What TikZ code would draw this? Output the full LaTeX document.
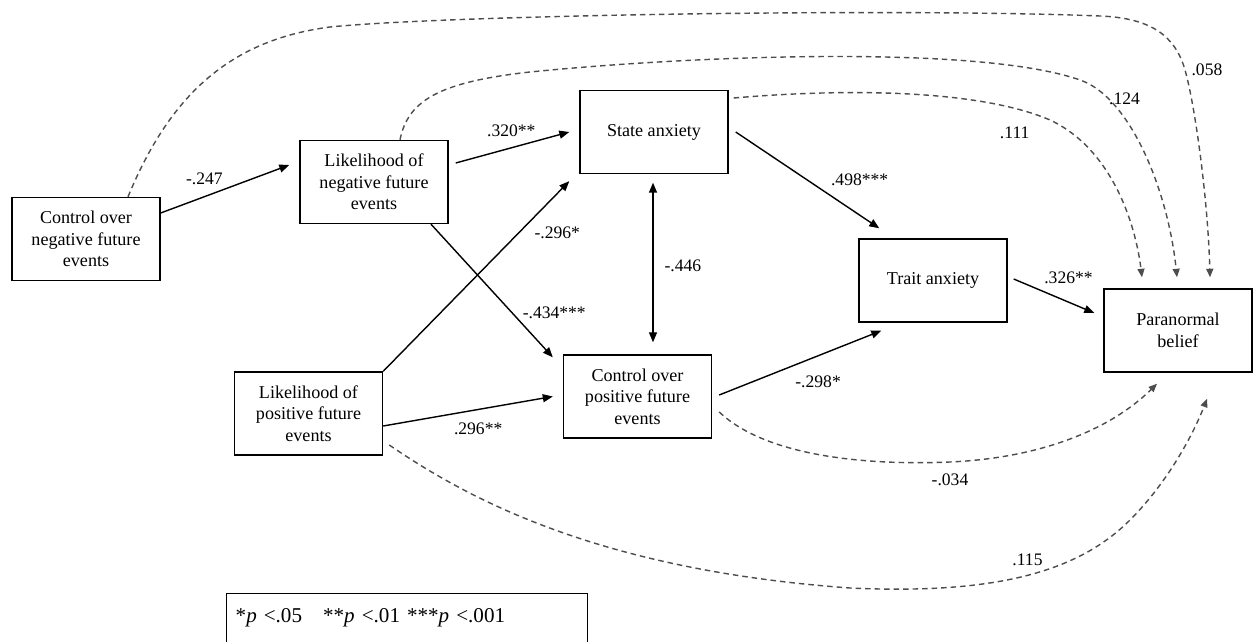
\documentclass[tikz,border=0pt]{standalone}
\usepackage{fontspec}
\setmainfont{Liberation Serif}
\usetikzlibrary{arrows.meta,positioning,calc}
\definecolor{dashgray}{HTML}{4D4D4D}
\tikzset{
  varbox/.style={draw,line width=0.8pt,align=center,minimum width=29.6mm,
    minimum height=16.6mm,inner sep=2pt,font=\fontsize{10.3}{12.3}\selectfont},
  effect/.style={-{Triangle[length=2mm,width=1.6mm]},line width=0.8pt},
  direct/.style={-{Triangle[length=1.7mm,width=1.4mm]},line width=0.8pt,
    dashgray,dash pattern=on 1.1mm off 0.8mm},
  coef/.style={text=black,font=\fontsize{10}{12}\selectfont},
  sigbox/.style={draw,line width=0.8pt,anchor=north west,align=left,
    text width=68.6mm,inner xsep=1.8mm,inner ysep=3mm,text depth=12mm,
    font=\fontsize{12}{14}\selectfont}
}

\begin{document}
\begin{tikzpicture}[x=0.2mm,y=-0.2mm]
  \useasboundingbox (0,0) rectangle (1253,642);
  % Variables
  \node[varbox] (cneg) at (86,239) {Control over\\negative future\\events};
  \node[varbox] (lneg) at (374,182) {Likelihood of\\negative future\\events};
  \node[varbox] (state) at (654,132) {State anxiety};
  \node[varbox] (trait) at (933,280.5) {Trait anxiety};
  \node[varbox] (para) at (1178,330.5) {Paranormal\\belief};
  \node[varbox] (lpos) at (308.5,413.5) {Likelihood of\\positive future\\events};
  \node[varbox] (cpos) at (637.5,396.5) {Control over\\positive future\\events};
  % Significance key
  \node[sigbox] (sig) at (226,593) {*\textit{p} <.05\ \ \ **\textit{p} <.01 ***\textit{p} <.001};
  % Paths (solid)
  \draw[effect] ([shift={(0,-26)}]cneg.east) -- ([shift={(-10,-17)}]lneg.west)
    node[coef,pos=0.34,above=1mm] {-.247};
  \draw[effect] ([shift={(7,-19)}]lneg.east) -- ([shift={(-10,0)}]state.west)
    node[coef,pos=0.49,above=0.8mm] {.320**};
  \draw[effect] ([shift={(57,0)}]lneg.south) -- ([shift={(-10,3)}]cpos.north west)
    node[coef,pos=0.667,right=0.8mm] {-.434***};
  \draw[effect] (lpos.north east) -- ([shift={(-10,7)}]state.south west)
    node[coef,pos=0.73,right=1.8mm] {-.296*};
  \draw[effect] ([shift={(0,12.5)}]lpos.east) -- ([shift={(-10,0)}]cpos.west)
    node[coef,pos=0.56,below=1.4mm] {.296**};
  \draw[effect,{Triangle[length=2mm,width=1.6mm]}-{Triangle[length=2mm,width=1.6mm]}]
    ($(state.south)+(-1,8.5)$) -- ($(state.south |- cpos.north)+(-1,-12)$)
    node[coef,pos=0.52,right=1mm] {-.446};
  \draw[effect] ([shift={(7,0)}]state.east) -- ([shift={(21,-10)}]trait.north west)
    node[coef,pos=0.5,right=3.4mm] {.498***};
  \draw[effect] ([shift={(7,-1.5)}]cpos.east) -- ([shift={(23,8)}]trait.south west)
    node[coef,pos=0.61,below=2.6mm] {-.298*};
  \draw[effect] ([shift={(6,-1.5)}]trait.east) -- ([shift={(-9,-17.5)}]para.west)
    node[coef,pos=0.68,above=2.4mm] {.326**};
  % Direct paths to paranormal belief (dashed)
  \draw[direct] ([shift={(42,0)}]cneg.north) .. controls (170,95) and (230,40) .. (330,27)
    .. controls (450,15) and (900,8) .. (1100,16)
    .. controls (1150,18) and (1175,35) .. (1185,70) node[coef,right] {.058}
    .. controls (1195,105) and (1208,200) .. ([shift={(32,-11)}]para.north);
  \draw[direct] ([shift={(26,0)}]lneg.north) .. controls (408,100) and (440,82) .. (530,72)
    .. controls (700,55) and (980,45) .. (1080,80)
    .. controls (1130,97) and (1168,190) .. ([shift={(-1,-11)}]para.north)
    node[coef,pos=0.2,anchor=west,inner sep=0pt] {.124};
  \draw[direct] ([shift={(5,-34)}]state.east) .. controls (850,88) and (980,90) .. (1050,120)
    node[coef,pos=0.85,below=2.4mm] {.111}
    .. controls (1110,148) and (1135,220) .. ([shift={(-36,-11)}]para.north);
  \draw[direct] ([shift={(7,15.5)}]cpos.east) .. controls (770,460) and (880,465) .. (950,462)
    node[coef,below=1mm] {-.034}
    .. controls (1040,458) and (1110,430) .. ([shift={(-21,11)}]para.south);
  \draw[direct] ([shift={(6,31.5)}]lpos.east) .. controls (470,500) and (600,570) .. (850,588)
    .. controls (1000,595) and (1080,570) .. (1130,520) node[coef,pos=0.5,above=0.6mm] {.115}
    .. controls (1170,480) and (1195,430) .. ([shift={(29,26)}]para.south);
\end{tikzpicture}
\end{document}
